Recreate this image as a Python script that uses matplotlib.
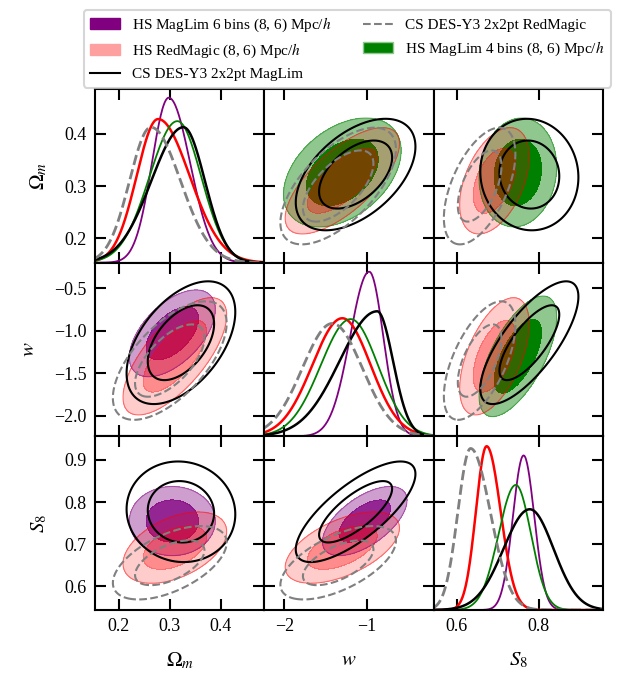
import numpy as np
import matplotlib.pyplot as plt
from matplotlib.patches import Patch
from matplotlib.lines import Line2D

plt.rcParams['font.family'] = ['Liberation Serif', 'DejaVu Serif']
plt.rcParams['mathtext.fontset'] = 'stix'

# parameters: Omega_m, w, S8
labels = [r'$\Omega_m$', r'$w$', r'$S_8$']
lims = [(0.153, 0.486), (-2.24, -0.2), (0.544, 0.956)]
xticks = [[0.2, 0.3, 0.4], [-2, -1], [0.6, 0.8]]
yticks = [[0.2, 0.3, 0.4], [-2.0, -1.5, -1.0, -0.5], [0.6, 0.7, 0.8, 0.9]]

names = ['HS MagLim 6 bins (8, 6) Mpc/$h$',
         'HS RedMagic (8, 6) Mpc/$h$',
         'CS DES-Y3 2x2pt MagLim',
         'CS DES-Y3 2x2pt RedMagic',
         'HS MagLim 4 bins (8, 6) Mpc/$h$']

# 2D contours: centre, width, correlations (Om-w, Om-S8, w-S8)
ml6_mean = [0.305, -1.03, 0.755]
ml6_sigma = [0.034, 0.205, 0.033]
ml6_corr = [0.55, 0.0, 0.6]

rm_mean = [0.310, -1.30, 0.692]
rm_sigma = [0.041, 0.277, 0.034]
rm_corr = [0.7, 0.45, 0.55]

csml_mean = [0.322, -1.14, 0.777]
csml_sigma = [0.043, 0.29, 0.048]
csml_corr = [0.5, -0.05, 0.75]

csrm_mean = [0.300, -1.35, 0.656]
csrm_sigma = [0.045, 0.28, 0.035]
csrm_corr = [0.63, 0.55, 0.6]

ml4_mean = [0.326, -1.30, 0.749]
ml4_sigma = [0.042, 0.285, 0.038]
ml4_corr = [0.4, 0.1, 0.65]

# 1D marginals: peak position, left/right width, peak height (fraction of panel)
ml6_peak = [0.298, -0.976, 0.763]
ml6_lo = [0.033, 0.23, 0.026]
ml6_hi = [0.042, 0.17, 0.026]
ml6_h = [0.95, 0.948, 0.89]

rm_peak = [0.277, -1.30, 0.673]
rm_lo = [0.042, 0.36, 0.026]
rm_hi = [0.062, 0.34, 0.034]
rm_h = [0.827, 0.68, 0.943]

csml_peak = [0.327, -0.88, 0.778]
csml_lo = [0.063, 0.45, 0.064]
csml_hi = [0.042, 0.19, 0.058]
csml_h = [0.78, 0.72, 0.58]

csrm_peak = [0.263, -1.42, 0.634]
csrm_lo = [0.042, 0.36, 0.031]
csrm_hi = [0.058, 0.36, 0.048]
csrm_h = [0.78, 0.65, 0.93]

ml4_peak = [0.315, -1.20, 0.744]
ml4_lo = [0.055, 0.36, 0.042]
ml4_hi = [0.047, 0.33, 0.037]
ml4_h = [0.815, 0.675, 0.72]

chains = {
    'ml6': dict(mean=ml6_mean, sig=ml6_sigma, corr=ml6_corr, peak=ml6_peak,
                lo=ml6_lo, hi=ml6_hi, h=ml6_h),
    'rm': dict(mean=rm_mean, sig=rm_sigma, corr=rm_corr, peak=rm_peak,
               lo=rm_lo, hi=rm_hi, h=rm_h),
    'csml': dict(mean=csml_mean, sig=csml_sigma, corr=csml_corr, peak=csml_peak,
                 lo=csml_lo, hi=csml_hi, h=csml_h),
    'csrm': dict(mean=csrm_mean, sig=csrm_sigma, corr=csrm_corr, peak=csrm_peak,
                 lo=csrm_lo, hi=csrm_hi, h=csrm_h),
    'ml4': dict(mean=ml4_mean, sig=ml4_sigma, corr=ml4_corr, peak=ml4_peak,
                lo=ml4_lo, hi=ml4_hi, h=ml4_h),
}

# fill styles: (colour, alpha inner, alpha outer)
fills = {'ml6': ('purple', 0.85, 0.38), 'rm': ('red', 0.45, 0.2), 'ml4': ('green', 1.0, 0.44)}
lines1d = {'ml6': ('purple', '-', 1.3), 'rm': ('red', '-', 1.8), 'ml4': ('green', '-', 1.3),
           'csml': ('black', '-', 1.8), 'csrm': ('grey', '--', 2.0)}

lower = ['ml6', 'rm', 'csml', 'csrm']
upper = ['ml4', 'rm', 'csml', 'csrm']
diag_order = ['ml6', 'rm', 'ml4', 'csml', 'csrm']

pair_idx = {(0, 1): 0, (0, 2): 1, (1, 2): 2}
lev68, lev95 = 2.30, 6.18


def chi2(ch, i, j, X, Y):
    mi, mj = ch['mean'][i], ch['mean'][j]
    si, sj = ch['sig'][i], ch['sig'][j]
    rho = ch['corr'][pair_idx[tuple(sorted((i, j)))]]
    dx = (X - mi) / si
    dy = (Y - mj) / sj
    return (dx**2 - 2 * rho * dx * dy + dy**2) / (1 - rho**2)


fig, axes = plt.subplots(3, 3, figsize=(6.19, 6.77), dpi=100)
fig.subplots_adjust(left=0.1535, right=0.974, top=0.8685, bottom=0.099,
                    wspace=0, hspace=0)

for r in range(3):
    for c in range(3):
        ax = axes[r, c]
        xs = np.linspace(lims[c][0], lims[c][1], 300)
        ys = np.linspace(lims[r][0], lims[r][1], 300)
        if r == c:
            y0, y1 = lims[r]
            for key in diag_order:
                ch = chains[key]
                col, ls, lw = lines1d[key]
                sig = np.where(xs < ch['peak'][c], ch['lo'][c], ch['hi'][c])
                p = ch['h'][c] * np.exp(-0.5 * ((xs - ch['peak'][c]) / sig)**2)
                ax.plot(xs, y0 + p * (y1 - y0), color=col, ls=ls, lw=lw)
        else:
            X, Y = np.meshgrid(xs, ys)
            keys = lower if r > c else upper
            for key in keys:
                ch = chains[key]
                Z = chi2(ch, c, r, X, Y)
                if key in fills:
                    col, a_in, a_out = fills[key]
                    ax.contourf(X, Y, Z, levels=[lev68, lev95], colors=[col], alpha=a_out)
                    ax.contourf(X, Y, Z, levels=[0, lev68], colors=[col], alpha=a_in)
                    ax.contour(X, Y, Z, levels=[lev95], colors=[col], linewidths=0.8, alpha=0.5)
                else:
                    col, ls, lw = lines1d[key]
                    ax.contour(X, Y, Z, levels=[lev68, lev95], colors=[col],
                               linestyles=ls, linewidths=1.5)
        ax.set_xlim(lims[c])
        ax.set_ylim(lims[r])
        ax.set_xticks(xticks[c])
        ax.set_yticks(yticks[r])
        ax.tick_params(direction='in', top=True, right=True, length=8, width=1.5,
                       labelsize=13, pad=6)
        for s in ax.spines.values():
            s.set_linewidth(1.5)
        if c == 0:
            ax.set_ylabel(labels[r], fontsize=15, labelpad=11)
        else:
            ax.set_yticklabels([])
        if r == 2:
            ax.set_xlabel(labels[c], fontsize=15, labelpad=11)
        else:
            ax.set_xticklabels([])

handles = [Patch(facecolor='purple', edgecolor='purple'),
           Patch(facecolor='#ffa0a0', edgecolor='#ffa0a0'),
           Line2D([], [], color='black', lw=1.5),
           Line2D([], [], color='grey', ls='--', lw=1.5),
           Patch(facecolor='green', edgecolor='#8fc78f')]
leg = fig.legend(handles, names, loc='upper center', bbox_to_anchor=(0.561, 0.997),
                 ncol=2, fontsize=11, frameon=True, columnspacing=2.0)
leg.get_frame().set_linewidth(1.5)

fig.savefig('out.png', dpi=100)
